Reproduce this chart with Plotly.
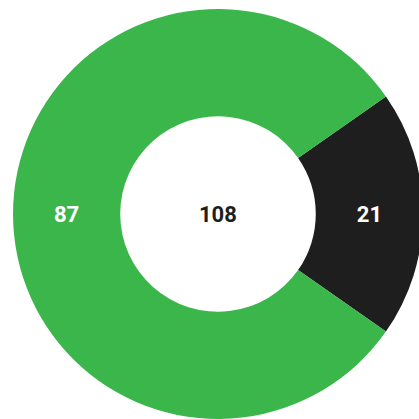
import plotly.graph_objects as go

categories = ["Dark", "Green"]
values = [21, 87]
colors = ["#1e1e1e", "#3bb64b"]

total = sum(values)

fig = go.Figure(go.Pie(
    labels=categories,
    values=values,
    hole=0.477,
    sort=False,
    direction="clockwise",
    rotation=55,
    marker=dict(colors=colors, line=dict(width=0)),
    texttemplate="%{value}",
    textposition="inside",
    insidetextorientation="horizontal",
    textfont=dict(family="Roboto", size=22, color="white", weight="bold"),
    hoverinfo="label+value",
    showlegend=False,
))

fig.add_annotation(
    text=str(total), x=0.5, y=0.5, xref="paper", yref="paper",
    showarrow=False,
    font=dict(family="Roboto", size=22, color="#1e1e1e", weight="bold"),
)

fig.update_layout(
    width=430, height=430,
    margin=dict(l=13, r=7, t=9, b=11),
    paper_bgcolor="white",
    plot_bgcolor="white",
)

fig.write_html(
    "out.html",
    config={"displayModeBar": False},
    post_script="document.body.style.margin='0';document.body.style.overflow='hidden';",
)
